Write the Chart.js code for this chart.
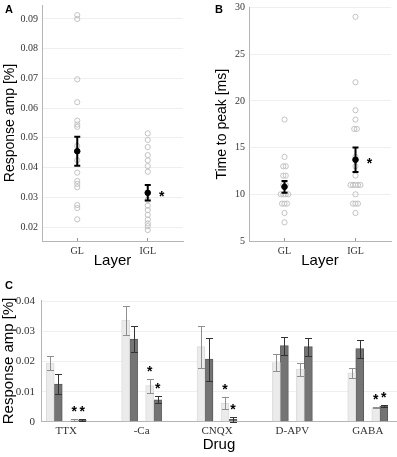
<!DOCTYPE html>
<html>
<head>
<meta charset="utf-8">
<script src="https://cdn.jsdelivr.net/npm/chart.js@4.4.1/dist/chart.umd.min.js"></script>
<style>
  body { margin: 0; background: #fff; }
  #wrap { position: relative; width: 397px; height: 457px; overflow: hidden; }
  canvas { position: absolute; }
  .lab { position: absolute; font: bold 11px "Liberation Sans", Arial, sans-serif; line-height: 11px; color: #000; }
</style>
</head>
<body>
<div id="wrap">
  <canvas id="chartA" width="197" height="275" style="left:0;top:0"></canvas>
  <canvas id="chartB" width="200" height="275" style="left:197px;top:0"></canvas>
  <canvas id="chartC" width="397" height="177" style="left:0;top:280px"></canvas>
  <div class="lab" style="left:5px;top:4px">A</div>
  <div class="lab" style="left:215px;top:4px">B</div>
  <div class="lab" style="left:5px;top:280px">C</div>
</div>
<script>
// panel A / B: single cells per layer
var layers = ['GL', 'IGL'];

var ampGL = [0.0913, 0.0900, 0.0697, 0.0620, 0.0558, 0.0545, 0.0537, 0.0473, 0.0425, 0.0383, 0.0355, 0.0345, 0.0334, 0.0274, 0.0264, 0.0226];
var ampIGL = [0.0515, 0.0493, 0.0469, 0.0442, 0.0424, 0.0405, 0.0386, 0.0291, 0.0272, 0.0257, 0.0241, 0.0225, 0.0212, 0.0203, 0.0190];
var ampMean = [0.0455, 0.0315];
var ampSem = [0.0049, 0.0026];
var ampSig = [false, true];
var ampTicks = [0.02, 0.03, 0.04, 0.05, 0.06, 0.07, 0.08, 0.09];

var ttpGL = [18, 14, 13, 13, 12, 12, 11, 11, 10, 10, 10, 10, 9, 9, 9, 8, 7];
var ttpIGL = [29, 22, 19, 18, 17, 17, 14, 13, 12, 11, 11, 11, 11, 11, 10, 9, 9, 9, 8];
var ttpMean = [10.8, 13.7];
var ttpSem = [0.63, 1.3];
var ttpSig = [false, true];
var ttpTicks = [5, 10, 15, 20, 25, 30];

// panel C: drug effects, control and drug, GL (light) and IGL (dark)
var drugs = ['TTX', '-Ca', 'CNQX', 'D-APV', 'GABA'];
var ctrlGL = [0.0195, 0.0338, 0.0250, 0.0197, 0.0163];
var ctrlGLErr = [0.0022, 0.0048, 0.0070, 0.0028, 0.0017];
var ctrlIGL = [0.0125, 0.0275, 0.0208, 0.0253, 0.0243];
var ctrlIGLErr = [0.0033, 0.0042, 0.0071, 0.0030, 0.0030];
var drugGL = [0.0006, 0.0120, 0.0061, 0.0175, 0.0047];
var drugGLErr = [0.0003, 0.0023, 0.0020, 0.0022, 0.0003];
var drugIGL = [0.0006, 0.0073, 0.0008, 0.0250, 0.0052];
var drugIGLErr = [0.0003, 0.0012, 0.0008, 0.0030, 0.0004];
var drugSigGL = [true, true, true, false, true];
var drugSigIGL = [true, true, true, false, true];
var drugTicks = [0, 0.01, 0.02, 0.03, 0.04];

var SANS = '"Liberation Sans", Arial, sans-serif';
var SERIF = '"Liberation Serif", "Times New Roman", serif';
Chart.defaults.font.family = SERIF;
Chart.defaults.color = '#333';

// error bars + significance stars, drawn from the scales
var errorBars = {
  id: 'errorBars',
  afterDatasetsDraw: function(chart) {
    var ctx = chart.ctx, ys = chart.scales.y;
    chart.data.datasets.forEach(function(ds, i) {
      if (!ds.errors) return;
      chart.getDatasetMeta(i).data.forEach(function(el, j) {
        var v = ds.data[j].y, e = ds.errors[j];
        var top = ys.getPixelForValue(v + e), bot = ys.getPixelForValue(v - e);
        var half = ds.capHalf || el.width / 2 - 0.5;
        var x = el.x;
        if (!ds.capHalf) { x = Math.round(x) + 0.5; top = Math.round(top) + 0.5; bot = Math.round(bot) + 0.5; }
        ctx.save();
        ctx.strokeStyle = ds.errorColor;
        ctx.lineWidth = ds.errorWidth;
        ctx.beginPath();
        ctx.moveTo(x, top); ctx.lineTo(x, bot);
        ctx.moveTo(x - half, top); ctx.lineTo(x + half, top);
        ctx.moveTo(x - half, bot); ctx.lineTo(x + half, bot);
        ctx.stroke();
        if (ds.stars && ds.stars[j]) {
          ctx.fillStyle = '#000';
          ctx.font = 'bold 14px ' + SANS;
          ctx.textAlign = 'center';
          var sy = ds.starAbove ? top - 12 : ys.getPixelForValue(v);
          ctx.fillText('*', el.x + (ds.starDx || 0), sy + 8);
        }
        ctx.restore();
      });
    });
  }
};

// spread equal values side by side
function swarm(values, xc, step) {
  var count = {}, used = {};
  values.forEach(function(v) { count[v] = (count[v] || 0) + 1; });
  return values.map(function(v) {
    used[v] = (used[v] || 0) + 1;
    return {x: xc + (used[v] - 1 - (count[v] - 1) / 2) * step, y: v};
  });
}

function layerChart(id, gl, igl, mean, sem, sig, yMin, yMax, yTicks, fmt, yTitle, o) {
  var points = swarm(gl, 1, 0.035).concat(swarm(igl, 2, 0.035));
  return new Chart(document.getElementById(id), {
    type: 'scatter',
    data: {
      datasets: [{
        data: mean.map(function(m, i) { return {x: i + 1, y: m}; }),
        errors: sem, stars: sig, starDx: 14, capHalf: 3,
        errorColor: '#000', errorWidth: 2,
        pointRadius: 2.8, backgroundColor: '#000', borderColor: '#000'
      }, {
        data: points,
        pointRadius: 2.6, borderWidth: 1,
        borderColor: '#c2c2c2', backgroundColor: 'rgba(0,0,0,0)'
      }]
    },
    options: {
      responsive: false,
      animation: false,
      events: [],
      layout: {padding: o.padding},
      plugins: {legend: {display: false}, tooltip: {enabled: false}},
      scales: {
        x: {
          type: 'linear', min: 0.5, max: 2.5, offset: false,
          afterBuildTicks: function(a) { a.ticks = layers.map(function(_, i) { return {value: i + 1}; }); },
          afterFit: function(a) { a.height = 29; a.paddingLeft = 0; a.paddingRight = 0; },
          ticks: {callback: function(v) { return layers[v - 1]; }, font: {size: 10}, color: '#333', padding: 7, autoSkip: false, maxRotation: 0},
          grid: {drawOnChartArea: false, drawTicks: true, tickLength: -3, tickColor: '#999'},
          border: {color: '#b5b5b5'},
          title: {display: true, text: 'Layer', font: {family: SANS, size: 15}, color: '#000', padding: 0}
        },
        y: {
          min: yMin, max: yMax,
          afterBuildTicks: function(a) { a.ticks = yTicks.map(function(v) { return {value: v}; }); },
          afterFit: function(a) { a.width = o.yWidth; a.paddingTop = 0; a.paddingBottom = 0; },
          ticks: {callback: fmt, font: {size: 10}, color: '#333', padding: 4},
          grid: {color: '#efefef', drawTicks: false},
          border: {color: '#b5b5b5'},
          title: {display: true, text: yTitle, font: {family: SANS, size: 14}, color: '#000', padding: {top: o.titlePad, bottom: 0}}
        }
      }
    },
    plugins: [errorBars]
  });
}

layerChart('chartA', ampGL, ampIGL, ampMean, ampSem, ampSig, 0.0153, 0.0947, ampTicks,
  function(v) { return v.toFixed(2); }, 'Response amp [%]',
  {padding: {top: 5, right: 14, bottom: 5, left: 0}, yWidth: 42, titlePad: 1.6});

layerChart('chartB', ttpGL, ttpIGL, ttpMean, ttpSem, ttpSig, 5, 30, ttpTicks,
  function(v) { return String(v); }, 'Time to peak [ms]',
  {padding: {top: 7.5, right: 6, bottom: 5, left: 0}, yWidth: 52, titlePad: 16.6});

function barSet(vals, errs, sig, fill, edge, errColor) {
  return {
    data: vals.map(function(v, i) { return {x: i + 1, y: v}; }),
    errors: errs, stars: sig, starAbove: true,
    errorColor: errColor, errorWidth: 1,
    backgroundColor: fill, borderColor: edge, borderWidth: 1
  };
}

new Chart(document.getElementById('chartC'), {
  type: 'bar',
  data: {
    datasets: [
      barSet(ctrlGL, ctrlGLErr, null, '#ebebeb', '#dcdcdc', '#8f8f8f'),
      barSet(ctrlIGL, ctrlIGLErr, null, '#747474', '#5a5a5a', '#333333'),
      {data: []},
      barSet(drugGL, drugGLErr, drugSigGL, '#ebebeb', '#dcdcdc', '#8f8f8f'),
      barSet(drugIGL, drugIGLErr, drugSigIGL, '#747474', '#5a5a5a', '#333333')
    ]
  },
  options: {
    responsive: false,
    animation: false,
    events: [],
    layout: {padding: {top: 20, right: 0, bottom: 3, left: 0}},
    datasets: {bar: {barThickness: 8}},
    plugins: {legend: {display: false}, tooltip: {enabled: false}},
    scales: {
      x: {
        type: 'linear', min: 0.665, max: 5.388, offset: false,
        afterBuildTicks: function(a) { a.ticks = drugs.map(function(_, i) { return {value: i + 1}; }); },
        afterFit: function(a) { a.height = 32.3; a.paddingLeft = 0; a.paddingRight = 0; },
        ticks: {callback: function(v) { return drugs[v - 1]; }, font: {size: 11}, color: '#333', padding: 3, autoSkip: false, maxRotation: 0},
        grid: {drawOnChartArea: false, drawTicks: false},
        border: {color: '#b5b5b5'},
        title: {display: true, text: 'Drug', font: {family: SANS, size: 15}, color: '#000', padding: 0}
      },
      y: {
        min: 0, max: 0.0405,
        afterBuildTicks: function(a) { a.ticks = drugTicks.map(function(v) { return {value: v}; }); },
        afterFit: function(a) { a.width = 41; a.paddingTop = 0; a.paddingBottom = 0; },
        ticks: {callback: function(v) { return v === 0 ? '0' : v.toFixed(2); }, font: {size: 11}, color: '#333', padding: 6},
        grid: {color: '#efefef', drawTicks: false},
        border: {color: '#b5b5b5'},
        title: {display: true, text: 'Response amp [%]', font: {family: SANS, size: 15}, color: '#000', padding: 0}
      }
    }
  },
  plugins: [errorBars]
});
</script>
</body>
</html>
